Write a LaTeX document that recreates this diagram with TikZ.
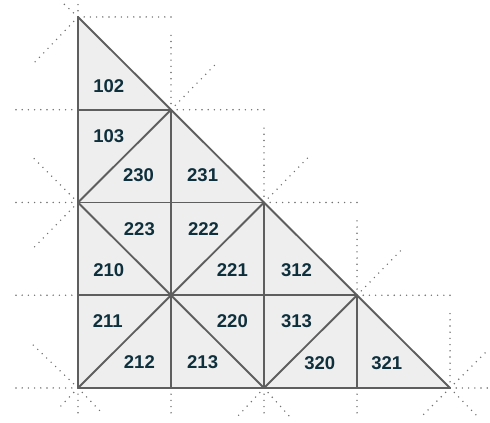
\documentclass[tikz,border=0pt]{standalone}
\usepackage{fontspec}
\setmainfont{Liberation Sans}
\usepackage{xcolor}
\usepackage{tikz}
\usetikzlibrary{calc}
\definecolor{meshgray}{HTML}{5E5E5E}
\definecolor{meshfill}{HTML}{EEEEEE}
\definecolor{dotgray}{HTML}{707070}
\definecolor{labink}{HTML}{0E2F3C}

\begin{document}
\begin{tikzpicture}[
    x=93pt,y=92.75pt,
    arete/.style   = {meshgray, line width=1.9pt, line join=round},
    voisin/.style  = {dotgray, line width=1.6pt, line cap=round,
                      dash pattern=on 0pt off 6.2pt},
    numtri/.style  = {font=\fontsize{18.5}{18.5}\selectfont\bfseries,
                      text=labink, inner sep=0pt},
  ]
  \useasboundingbox (-78pt,-35pt) rectangle (412pt,388pt);

  % ── Sommets du maillage ────────────────────────────────────────────────
  \foreach \i in {0,...,4}
    \foreach \j in {0,...,4}
      \coordinate (v\i\j) at (\i,\j);

  % ── Triangle de base ───────────────────────────────────────────────────
  \fill[meshfill] (v00) -- (v40) -- (v04) -- cycle;

  % ── Voisins (pointillés) ───────────────────────────────────────────────
  \draw[voisin] (v04) -- ++(93pt,0);
  \draw[voisin] (v04) -- ++(0,13pt);
  \draw[voisin] (v04) -- ++(-14pt,13pt);
  \draw[voisin] (v04) -- ++(-44pt,-46pt);
  \draw[voisin] (v03) -- ++(-68pt,0);
  \draw[voisin] (v02) -- ++(-68pt,0);
  \draw[voisin] (v02) -- ++(-46pt,46pt);
  \draw[voisin] (v02) -- ++(-46pt,-47pt);
  \draw[voisin] (v01) -- ++(-63pt,0);

  \foreach \s in {v13,v22,v31}{
    \draw[voisin] (\s) -- ++(0,80pt);
    \draw[voisin] (\s) -- ++(47pt,48pt);
    \draw[voisin] (\s) -- ++(93pt,0);
  }
  \draw[voisin] (v40) -- ++(0,80pt);
  \draw[voisin] (v40) -- ++(36pt,36pt);
  \draw[voisin] (v40) -- ++(40pt,0);
  \draw[voisin] (v40) -- ++(28pt,-29pt);
  \draw[voisin] (v40) -- ++(-30pt,-30pt);

  \foreach \s in {v10,v20,v30}
    \draw[voisin] (\s) -- ++(0,-25pt);
  \draw[voisin] (v20) -- ++(26pt,-29pt);
  \draw[voisin] (v20) -- ++(-26pt,-28pt);

  \draw[voisin] (v00) -- ++(-63pt,0);
  \draw[voisin] (v00) -- ++(-48pt,46pt);
  \draw[voisin] (v00) -- ++(0,-26pt);
  \draw[voisin] (v00) -- ++(24pt,-25pt);
  \draw[voisin] (v00) -- ++(-21pt,-22pt);

  % ── Arêtes ─────────────────────────────────────────────────────────────
  \draw[arete] (v01) -- (v31);
  \draw[arete] (v02) -- (v22);
  \draw[arete] (v03) -- (v13);
  \draw[arete] (v10) -- (v13);
  \draw[arete] (v20) -- (v22);
  \draw[arete] (v30) -- (v31);
  \draw[arete] (v02) -- (v13);
  \draw[arete] (v02) -- (v20);
  \draw[arete] (v00) -- (v22);
  \draw[arete] (v20) -- (v31);
  \draw[arete] (v00) -- (v40) -- (v04) -- cycle;

  % ── Numéros des triangles ──────────────────────────────────────────────
  \node[numtri] (t102) at (0.33,3.25) {102};
  \node[numtri] (t103) at (0.33,2.71) {103};
  \node[numtri] (t230) at (0.65,2.30) {230};
  \node[numtri] (t231) at (1.34,2.30) {231};
  \node[numtri] (t223) at (0.66,1.71) {223};
  \node[numtri] (t222) at (1.35,1.71) {222};
  \node[numtri] (t210) at (0.33,1.27) {210};
  \node[numtri] (t221) at (1.66,1.27) {221};
  \node[numtri] (t312) at (2.35,1.27) {312};
  \node[numtri] (t211) at (0.32,0.72) {211};
  \node[numtri] (t220) at (1.66,0.72) {220};
  \node[numtri] (t313) at (2.35,0.72) {313};
  \node[numtri] (t212) at (0.66,0.28) {212};
  \node[numtri] (t213) at (1.34,0.28) {213};
  \node[numtri] (t320) at (2.60,0.27) {320};
  \node[numtri] (t321) at (3.32,0.27) {321};

\end{tikzpicture}
\end{document}
